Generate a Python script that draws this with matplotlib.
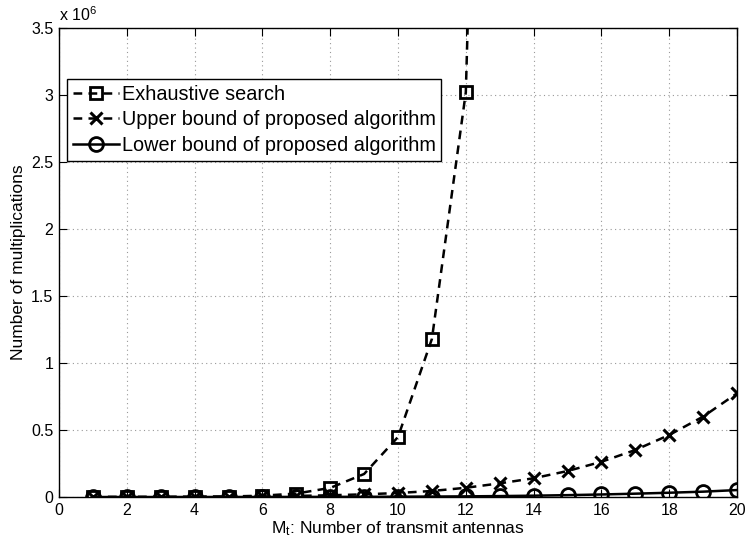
import numpy as np
import matplotlib
matplotlib.use("Agg")
import matplotlib.pyplot as plt
from matplotlib.ticker import FuncFormatter, MultipleLocator

plt.rcParams['font.family'] = ['Liberation Sans', 'DejaVu Sans']
plt.rcParams['mathtext.fontset'] = 'custom'
plt.rcParams['mathtext.rm'] = 'Liberation Sans'
plt.rcParams['mathtext.default'] = 'rm'

# number of transmit antennas
antennas = list(range(1, 21))
exhaustive_antennas = list(range(1, 14))

# multiplications needed by each scheme
exhaustive = [70, 200, 500, 1.4e3, 3.8e3, 1.0e4, 2.6e4, 6.8e4, 1.72e5,
              4.48e5, 1.18e6, 3.02e6, 1.2e7]
upper_bound = [50, 250, 700, 1.5e3, 3.0e3, 5.0e3, 8.0e3, 1.3e4, 2.0e4,
               3.0e4, 4.5e4, 6.9e4, 1.02e5, 1.40e5, 1.94e5, 2.63e5,
               3.51e5, 4.63e5, 6.00e5, 7.74e5]
lower_bound = [10, 40, 100, 200, 350, 550, 800, 1.1e3, 1.6e3, 2.5e3,
               3.5e3, 5.0e3, 7.0e3, 1.0e4, 1.4e4, 1.9e4, 2.5e4, 3.2e4,
               4.0e4, 5.2e4]

fig = plt.figure(figsize=(7.48, 5.46), dpi=100)
ax = fig.add_axes([0.0789, 0.0897, 0.9064, 0.859])

lw = 1.8
dash = (0, (3.5, 2.5))
ax.plot(exhaustive_antennas, exhaustive, color='k', lw=lw, linestyle=dash,
        marker='s', markersize=8.5, markerfacecolor='none',
        markeredgewidth=2.0, label='Exhaustive search')
ax.plot(antennas, upper_bound, color='k', lw=lw, linestyle=dash,
        marker='x', markersize=8, markeredgewidth=2.2,
        label='Upper bound of proposed algorithm')
ax.plot(antennas, lower_bound, color='k', lw=lw, linestyle='-',
        marker='o', markersize=10, markerfacecolor='none',
        markeredgewidth=2.0, label='Lower bound of proposed algorithm')

ax.set_xlim(0, 20)
ax.set_ylim(0, 3.5e6)
ax.xaxis.set_major_locator(MultipleLocator(2))
ax.yaxis.set_major_locator(MultipleLocator(0.5e6))
ax.yaxis.set_major_formatter(FuncFormatter(lambda v, p: '%g' % (v / 1e6)))
ax.tick_params(direction='in', top=True, right=True, labelsize=11.5,
               length=6, width=0.8, pad=4)
ax.grid(True, linestyle=(0, (1, 3)), color='#999999', linewidth=0.8)
for s in ax.spines.values():
    s.set_linewidth(1.0)

ax.text(0.0, 1.008, r'x 10$^{6}$', transform=ax.transAxes, fontsize=11.5,
        ha='left', va='bottom')

ax.set_xlabel(r'M$_{t}$: Number of transmit antennas', fontsize=12.5,
              labelpad=1)
ax.set_ylabel('Number of multiplications', fontsize=12.5, labelpad=4)

leg = ax.legend(loc='upper left', bbox_to_anchor=(0.0118, 0.891),
                borderaxespad=0, fontsize=14.3, fancybox=False,
                edgecolor='k', framealpha=1, handlelength=2.3,
                handletextpad=0.15, labelspacing=0.32, borderpad=0.3)
leg.get_frame().set_linewidth(1.0)

fig.savefig('out.png', dpi=100)
